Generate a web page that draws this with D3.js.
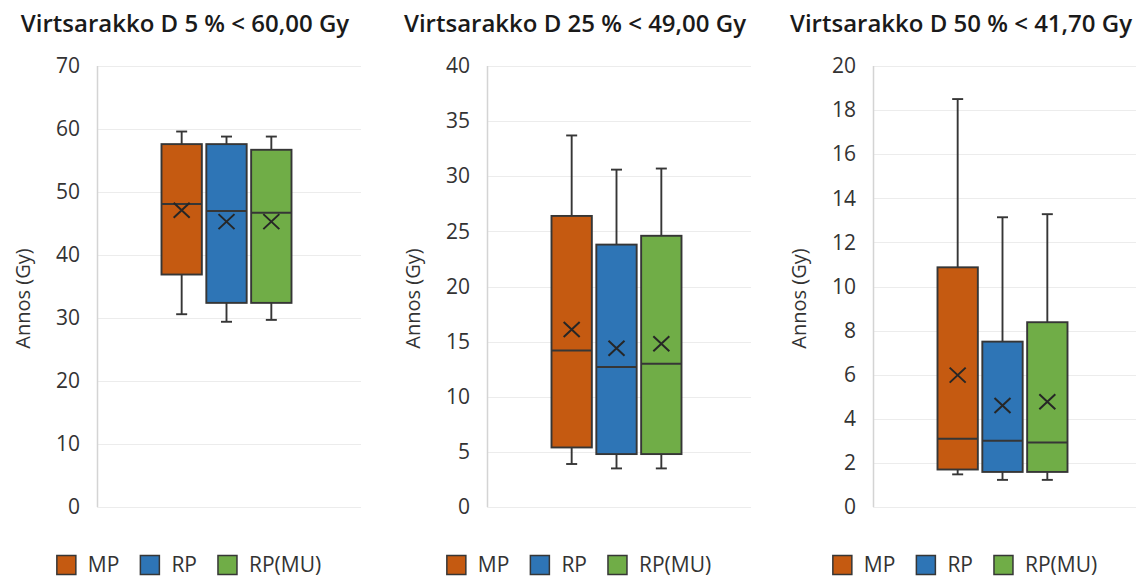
<!DOCTYPE html>
<html>
<head>
<meta charset="utf-8">
<script src="https://cdn.jsdelivr.net/npm/d3@7"></script>
<style>
  html, body { margin: 0; padding: 0; background: #fff; }
  svg { display: block; font-family: "Open Sans", "Noto Sans", sans-serif; }
</style>
</head>
<body>
<svg id="chart" width="1136" height="579"></svg>
<script>
// Series shown in every panel
const series = ["MP", "RP", "RP(MU)"];
const colors = ["#C55A11", "#2E75B6", "#70AD47"];

// Panel titles and y-axis settings
const titles = [
  "Virtsarakko D 5 % < 60,00 Gy",
  "Virtsarakko D 25 % < 49,00 Gy",
  "Virtsarakko D 50 % < 41,70 Gy"
];
const yMax = [70, 40, 20];
const yStep = [10, 5, 2];

// Box statistics per panel, per series: [min, q1, median, q3, max]
const boxD5 = [
  [30.6, 36.9, 48.1, 57.6, 59.6],
  [29.4, 32.4, 47.0, 57.6, 58.8],
  [29.7, 32.4, 46.7, 56.7, 58.8]
];
const boxD25 = [
  [3.9, 5.4, 14.2, 26.4, 33.7],
  [3.5, 4.8, 12.7, 23.8, 30.6],
  [3.5, 4.8, 13.0, 24.6, 30.7]
];
const boxD50 = [
  [1.48, 1.70, 3.10, 10.87, 18.50],
  [1.23, 1.59, 3.00, 7.50, 13.14],
  [1.23, 1.59, 2.93, 8.38, 13.28]
];
// Means (drawn as X markers)
const meanD5 = [47.1, 45.3, 45.3];
const meanD25 = [16.1, 14.4, 14.8];
const meanD50 = [5.98, 4.60, 4.77];

const boxes = [boxD5, boxD25, boxD50];
const means = [meanD5, meanD25, meanD50];

const svg = d3.select("#chart");

// Layout
const axisX = [97, 487, 873];
const plotW = 264;
const plotTop = 66, plotBottom = 507;
const textColor = "#333333";
const lineColor = "#363636";

titles.forEach((title, p) => {
  const x0 = axisX[p];
  const g = svg.append("g");

  const y = d3.scaleLinear().domain([0, yMax[p]]).range([plotBottom, plotTop]);
  const ticks = d3.range(0, yMax[p] + yStep[p] / 2, yStep[p]);

  // Gridlines
  g.append("g")
    .selectAll("line")
    .data(ticks)
    .join("line")
    .attr("x1", x0).attr("x2", x0 + plotW)
    .attr("y1", d => Math.round(y(d)) + 0.5).attr("y2", d => Math.round(y(d)) + 0.5)
    .attr("stroke", "#ececec").attr("stroke-width", 1.2);

  // Vertical axis line
  g.append("line")
    .attr("x1", x0 + 0.5).attr("x2", x0 + 0.5)
    .attr("y1", plotTop).attr("y2", plotBottom)
    .attr("stroke", "#d4d4d4").attr("stroke-width", 1.5);

  // Y axis tick labels
  const axis = d3.axisLeft(y).tickValues(ticks).tickSize(0).tickPadding(17).tickFormat(d3.format("d"));
  const ag = g.append("g").attr("transform", `translate(${x0},0)`).call(axis);
  ag.select(".domain").remove();
  ag.selectAll("text")
    .attr("font-size", 21)
    .attr("font-family", "'Open Sans', sans-serif")
    .attr("fill", textColor);

  // Y axis title
  g.append("text")
    .attr("transform", `translate(${x0 - 74},${(plotTop + plotBottom) / 2 + 12}) rotate(-90)`)
    .attr("text-anchor", "middle")
    .attr("dy", "0.35em")
    .attr("font-size", 20)
    .attr("fill", textColor)
    .text("Annos (Gy)");

  // Chart title
  g.append("text")
    .attr("x", x0 + plotW / 2 - 44)
    .attr("y", 32)
    .attr("text-anchor", "middle")
    .attr("font-size", 24)
    .attr("font-weight", 600)
    .attr("fill", "#1a1a1a")
    .text(title);

  // Boxes within the category
  const xb = d3.scaleBand()
    .domain(series)
    .range([x0 + 64.5, x0 + 194.5])
    .paddingInner(0.1);

  const data = series.map((s, i) => ({
    s, color: colors[i],
    min: boxes[p][i][0], q1: boxes[p][i][1], med: boxes[p][i][2],
    q3: boxes[p][i][3], max: boxes[p][i][4], mean: means[p][i]
  }));

  const bg = g.append("g").selectAll("g").data(data).join("g");
  const cx = d => xb(d.s) + xb.bandwidth() / 2;
  const capW = 11;
  const sw = 1.9;

  // Whiskers
  bg.append("line")
    .attr("x1", cx).attr("x2", cx)
    .attr("y1", d => y(d.max)).attr("y2", d => y(d.q3))
    .attr("stroke", lineColor).attr("stroke-width", sw);
  bg.append("line")
    .attr("x1", cx).attr("x2", cx)
    .attr("y1", d => y(d.q1)).attr("y2", d => y(d.min))
    .attr("stroke", lineColor).attr("stroke-width", sw);
  bg.append("line")
    .attr("x1", d => cx(d) - capW / 2).attr("x2", d => cx(d) + capW / 2)
    .attr("y1", d => y(d.max)).attr("y2", d => y(d.max))
    .attr("stroke", lineColor).attr("stroke-width", sw);
  bg.append("line")
    .attr("x1", d => cx(d) - capW / 2).attr("x2", d => cx(d) + capW / 2)
    .attr("y1", d => y(d.min)).attr("y2", d => y(d.min))
    .attr("stroke", lineColor).attr("stroke-width", sw);

  // Box body
  bg.append("rect")
    .attr("x", d => xb(d.s))
    .attr("width", xb.bandwidth())
    .attr("y", d => y(d.q3))
    .attr("height", d => y(d.q1) - y(d.q3))
    .attr("fill", d => d.color)
    .attr("stroke", lineColor).attr("stroke-width", sw);

  // Median
  bg.append("line")
    .attr("x1", d => xb(d.s)).attr("x2", d => xb(d.s) + xb.bandwidth())
    .attr("y1", d => y(d.med)).attr("y2", d => y(d.med))
    .attr("stroke", lineColor).attr("stroke-width", 2);

  // Mean marker (X)
  const mx = 8, my = 7.5;
  bg.append("path")
    .attr("d", d => {
      const c = cx(d), m = y(d.mean);
      return `M${c - mx},${m - my}L${c + mx},${m + my}M${c - mx},${m + my}L${c + mx},${m - my}`;
    })
    .attr("stroke", "#262626").attr("stroke-width", 2).attr("fill", "none");

  // Legend
  const lg = g.append("g");
  const items = lg.selectAll("g").data(series).join("g");
  items.append("rect")
    .attr("width", 19).attr("height", 19)
    .attr("y", -9.5)
    .attr("fill", (d, i) => colors[i])
    .attr("stroke", "#363636").attr("stroke-width", 1.5);
  items.append("text")
    .attr("x", 31)
    .attr("dy", "0.35em")
    .attr("font-size", 21)
    .attr("fill", textColor)
    .text(d => d);
  // Lay out items left to right, then centre the row
  let cursor = 0;
  items.each(function() {
    const w = this.getBBox().width;
    d3.select(this).attr("transform", `translate(${cursor},0)`);
    cursor += w + 21;
  });
  const total = cursor - 21;
  lg.attr("transform", `translate(${x0 + plotW / 2 - 40 - total / 2},565)`);
});
</script>
</body>
</html>
